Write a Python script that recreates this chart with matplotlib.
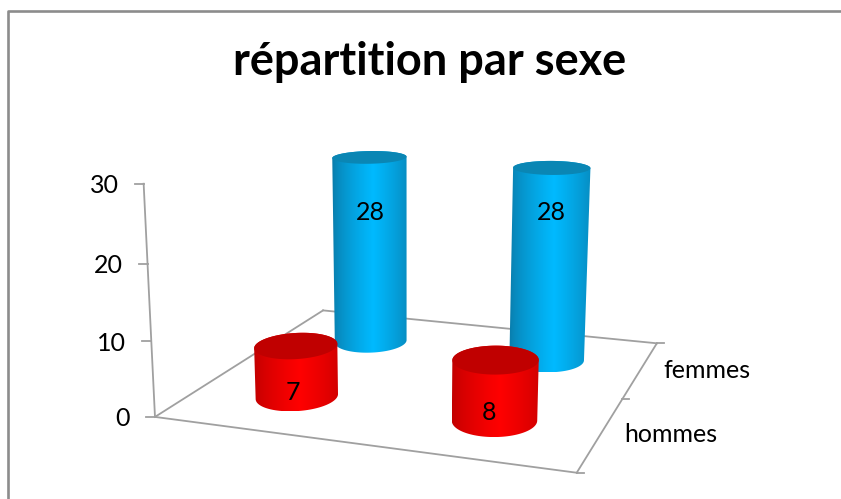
import numpy as np
import matplotlib
matplotlib.use('Agg')
import matplotlib.pyplot as plt
from matplotlib.patches import Polygon

plt.rcParams['font.family'] = ['Lato', 'DejaVu Sans']

# data
title = 'répartition par sexe'
series_names = ['hommes', 'femmes']
hommes = [7, 8]
femmes = [28, 28]
z_ticks = [0, 10, 20, 30]

# camera calibration: world (cat, series, value) -> pixel, measured on the picture
world_pts = [(0, 0, 0), (2, 0, 0), (0, 2, 0), (2, 2, 0),
             (0, 0, 10), (0, 0, 20), (0, 0, 30),
             (0.5, 0.5, 0), (0.5, 0.5, 7), (1.5, 0.5, 0), (1.5, 0.5, 8),
             (0.5, 1.5, 0), (0.5, 1.5, 28), (1.5, 1.5, 0), (1.5, 1.5, 28)]
pixel_pts = [(155, 417), (577, 472), (323, 310), (657, 342),
             (152, 341), (148, 263), (143, 183),
             (297, 397), (296, 346), (494, 421), (495, 360),
             (370.5, 341), (369.5, 158), (547, 360), (552, 168)]


def fit_camera(world, pixel):
    rows = []
    for (X, Y, Z), (u, v) in zip(world, pixel):
        Z = Z / 10.0
        rows.append([X, Y, Z, 1, 0, 0, 0, 0, -u*X, -u*Y, -u*Z, -u])
        rows.append([0, 0, 0, 0, X, Y, Z, 1, -v*X, -v*Y, -v*Z, -v])
    _, _, vt = np.linalg.svd(np.array(rows, dtype=float))
    return vt[-1].reshape(3, 4)


P = fit_camera(world_pts, pixel_pts)


def project(x, y, z):
    x, y, z = np.broadcast_arrays(np.asarray(x, float), np.asarray(y, float), np.asarray(z, float) / 10.0)
    h = P @ np.array([x.ravel(), y.ravel(), z.ravel(), np.ones(x.size)])
    return h[0] / h[2], h[1] / h[2]


def hull(points):
    # monotone chain
    pts = sorted(map(tuple, points))
    def half(seq):
        out = []
        for p in seq:
            while len(out) > 1:
                a = np.subtract(out[-1], out[-2])
                b = np.subtract(p, out[-2])
                if a[0] * b[1] - a[1] * b[0] > 0:
                    break
                out.pop()
            out.append(p)
        return out[:-1]
    return np.array(half(pts) + half(pts[::-1]))


fig = plt.figure(figsize=(8.41, 4.99), dpi=100)
ax = fig.add_axes([0, 0, 1, 1])
ax.set_xlim(0, 841)
ax.set_ylim(499, 0)
ax.axis('off')

# chart frame, only top and left edges are inside the picture
ax.plot([841, 8.5, 8.5], [10.5, 10.5, 499], color='#8c8c8c', lw=1.9)
ax.text(430, 62, title, ha='center', va='center', fontsize=32.5, fontweight='bold', color='black')

# floor + axes
grey = '#a0a0a0'
def seg(a, b):
    xa, ya = project(*a)
    xb, yb = project(*b)
    ax.plot([xa[0], xb[0]], [ya[0], yb[0]], color=grey, lw=1.3, zorder=1)

seg((0, 0, 0), (2, 0, 0))
seg((0, 0, 0), (0, 2, 0))
seg((0, 2, 0), (2, 2, 0))
seg((2, 0, 0), (2, 2, 0))
seg((0, 0, 0), (0, 0, 30))
for t in z_ticks:
    x0, y0 = project(0, 0, t)
    ax.plot([x0[0] - 9, x0[0]], [y0[0], y0[0]], color=grey, lw=1.3, zorder=1)
    ax.text(x0[0] - 25, y0[0] + 2, str(t), ha='right', va='center', fontsize=18)
for s in range(3):
    x0, y0 = project(2, s, 0)
    ax.plot([x0[0], x0[0] + 7], [y0[0], y0[0]], color=grey, lw=1.3, zorder=1)
ax.text(624, 435, series_names[0], ha='left', va='center', fontsize=18)
ax.text(663, 371, series_names[1], ha='left', va='center', fontsize=18)


def cylinder(cx, cy, value, edge_col, mid_col, top_col, z):
    theta = np.linspace(0, 2 * np.pi, 121)
    r = 0.195
    bx, by = project(cx + r * np.cos(theta), cy + r * 1.15 * np.sin(theta), 0)
    tx, ty = project(cx + r * np.cos(theta), cy + r * 1.15 * np.sin(theta), value)
    outline = hull(np.column_stack([np.r_[bx, tx], np.r_[by, ty]]))
    x_min, x_max = outline[:, 0].min(), outline[:, 0].max()
    y_min, y_max = outline[:, 1].min(), outline[:, 1].max()
    # horizontal shading, brightest a little right of the middle
    s = np.linspace(0, 1, 200)
    w = np.clip(1 - np.abs(s - 0.55) / 0.55, 0, 1) ** 0.7
    edge = np.array(matplotlib.colors.to_rgb(edge_col))
    mid = np.array(matplotlib.colors.to_rgb(mid_col))
    img = edge + (mid - edge) * w[:, None]
    im = ax.imshow(img[None, :, :], extent=[x_min, x_max, y_max, y_min], aspect='auto', zorder=z, interpolation='bilinear')
    clip = Polygon(outline, closed=True, transform=ax.transData, fc='none', ec='none')
    ax.add_patch(clip)
    im.set_clip_path(clip)
    ax.add_patch(Polygon(np.column_stack([tx, ty]), closed=True, fc=top_col, ec='none', zorder=z + 0.1))


blue = ('#0a7aa8', '#00baff', '#0a86b4')
red = ('#c00000', '#ff0000', '#c00000')

cylinder(0.5, 1.5, femmes[0], *blue, z=2)
cylinder(1.5, 1.5, femmes[1], *blue, z=3)
cylinder(0.5, 0.5, hommes[0], *red, z=4)
cylinder(1.5, 0.5, hommes[1], *red, z=5)
ax.set_xlim(0, 841)
ax.set_ylim(499, 0)

ax.text(370, 212, str(femmes[0]), ha='center', va='center', fontsize=18, zorder=10)
ax.text(551, 212, str(femmes[1]), ha='center', va='center', fontsize=18, zorder=10)
ax.text(293, 392, str(hommes[0]), ha='center', va='center', fontsize=18, zorder=10)
ax.text(489, 412, str(hommes[1]), ha='center', va='center', fontsize=18, zorder=10)

fig.savefig('out.png', dpi=100)
